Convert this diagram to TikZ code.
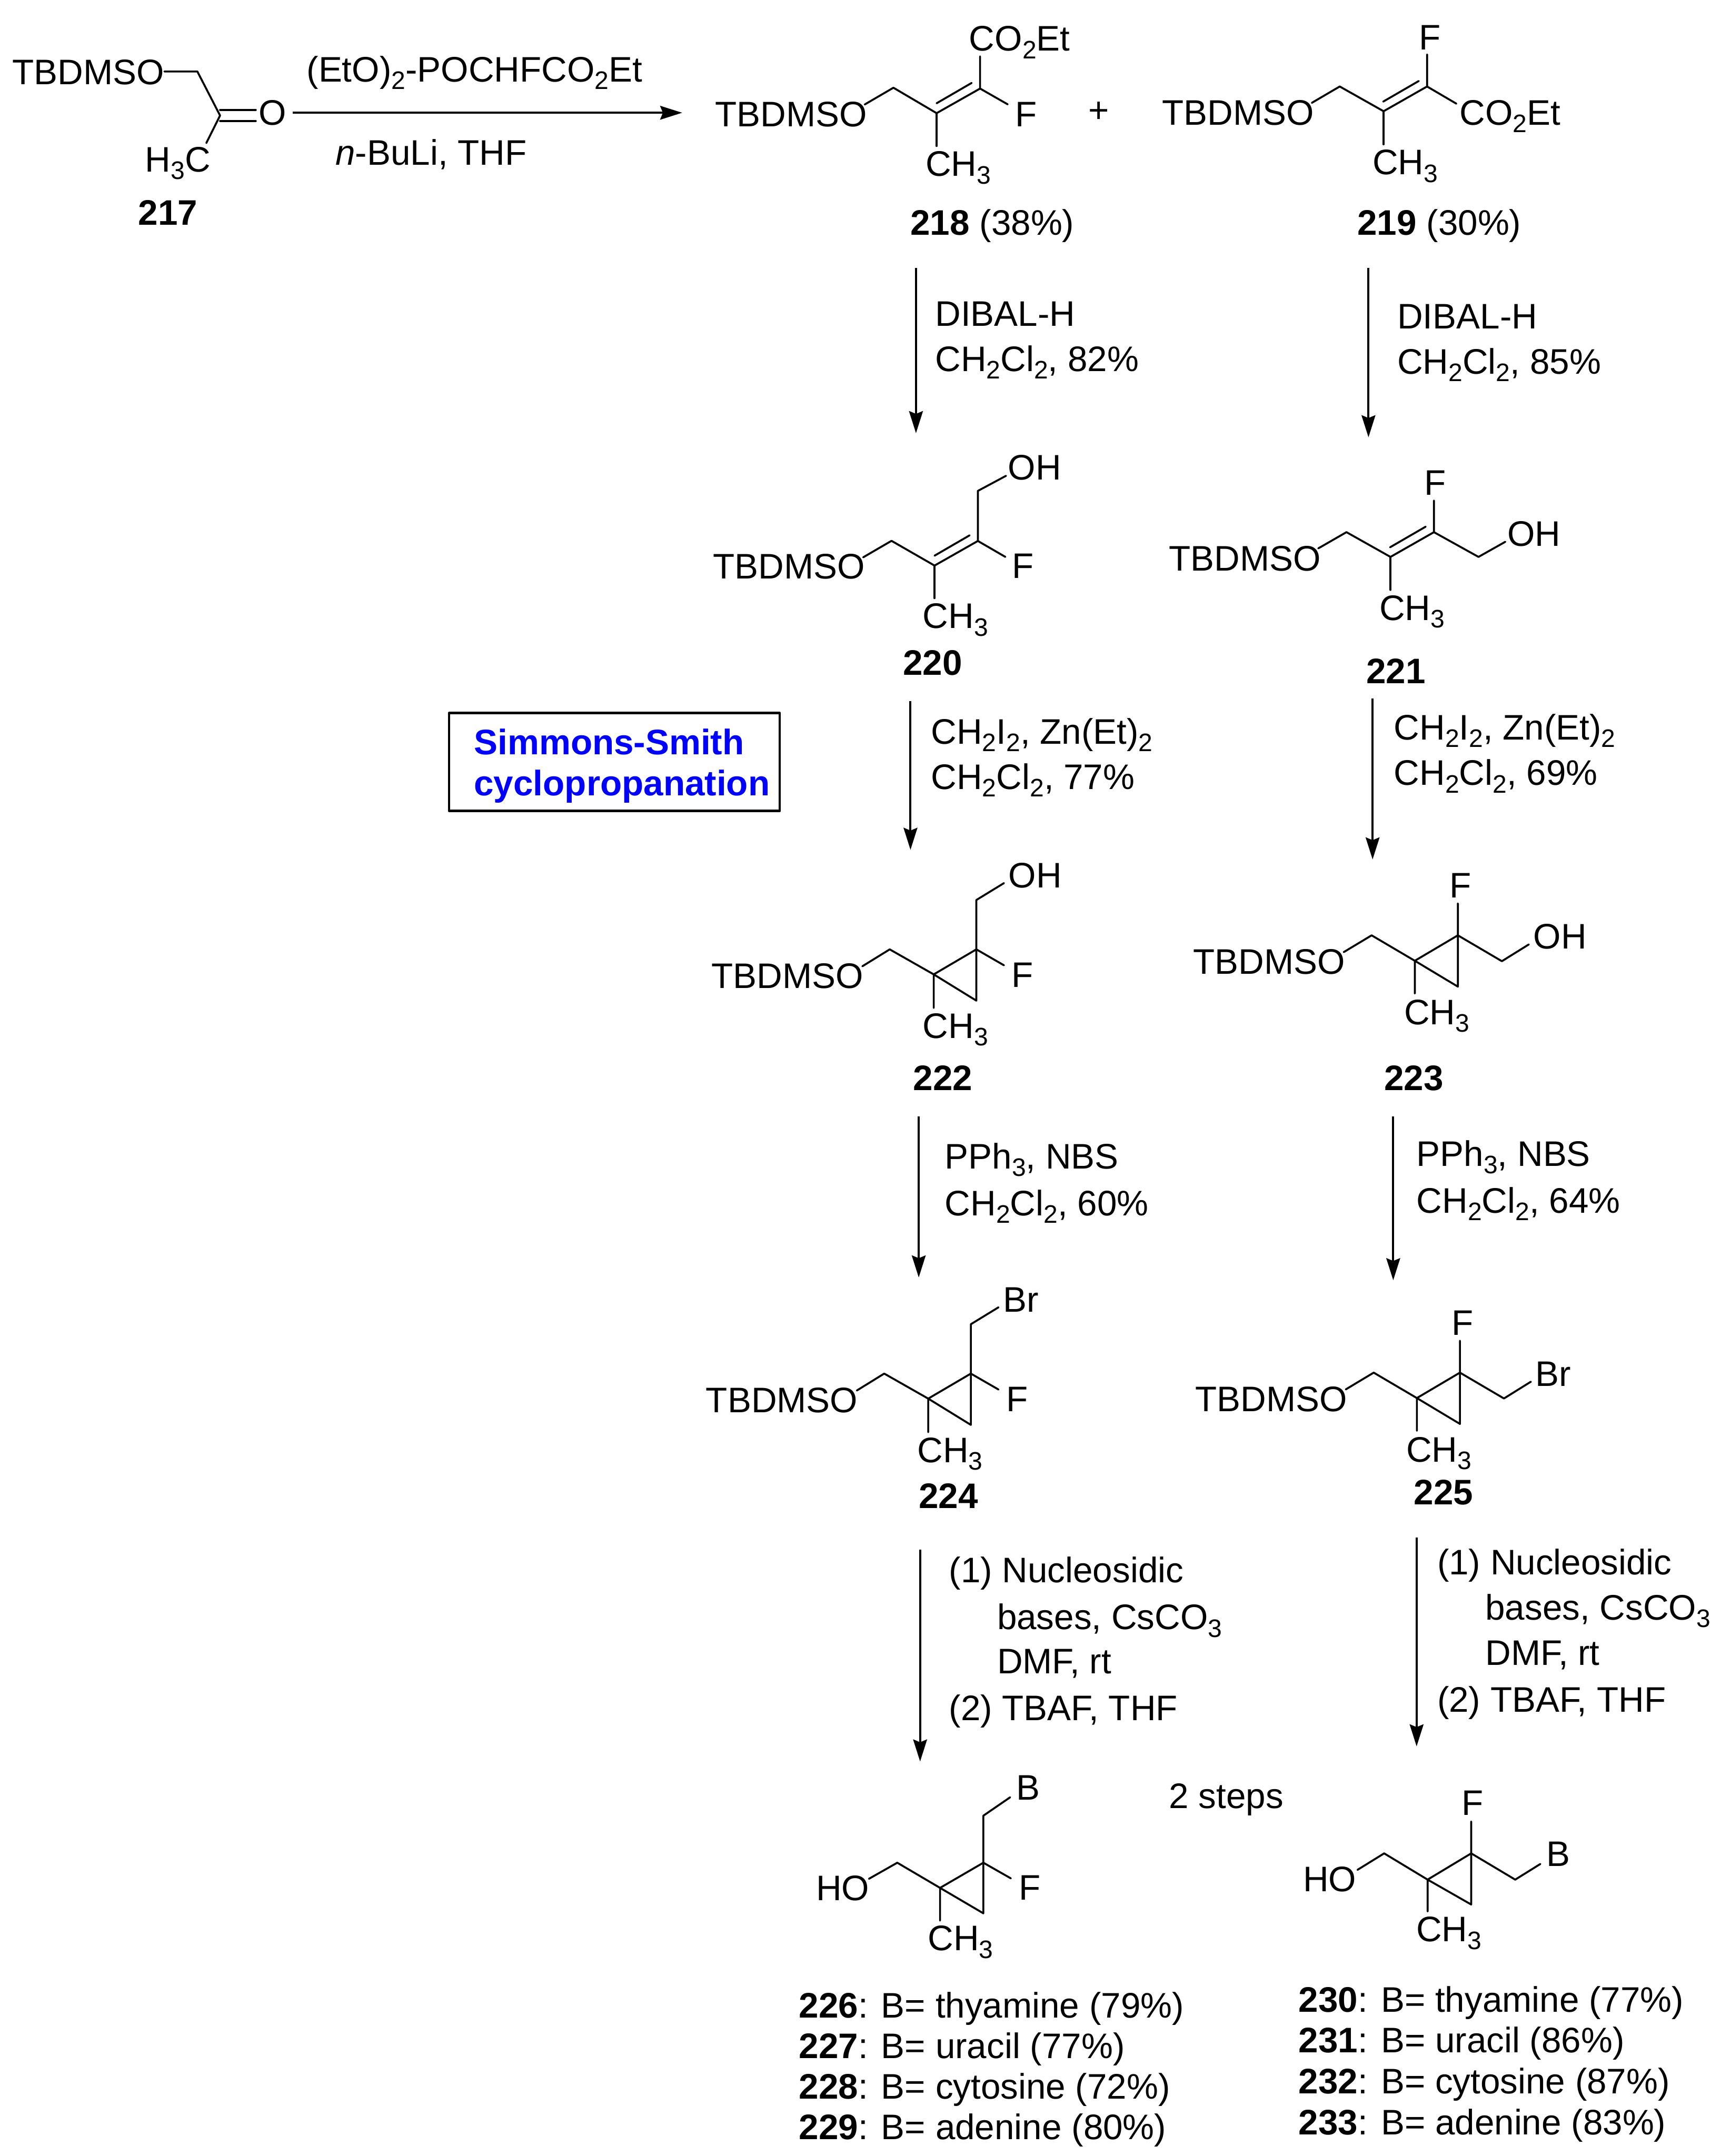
\documentclass[tikz,border=0pt]{standalone}
\usepackage{fontspec}
\setmainfont{Liberation Sans}
\usetikzlibrary{arrows.meta}
\newcommand\sbs[1]{\raisebox{-5.5pt}{\fontsize{18.4}{20}\selectfont #1}}
\newcommand\tbd{TBDMSO}
\newcommand\chthree{CH\sbs{3}}
\newcommand\coet{CO\sbs{2}Et}
\tikzset{
  lbl/.style={inner sep=0pt,outer sep=0pt,anchor=base west,font=\fontsize{25.8}{30}\selectfont,text=black},
  bond/.style={line width=1.4pt,line cap=round,line join=round,draw=black},
  rxn/.style={line width=1.5pt,draw=black,-{Stealth[length=16pt,width=10pt,inset=2pt]}},
  namebox/.style={line width=1.7pt,draw=black,line join=round}
}
% cyclopropane, arm up: prefix, shift, top label
\newcommand\cpUp[4]{%
\begin{scope}[shift={(#2,#3)}]
\node[lbl] (#1tbd) at (517.3,718.6) {\tbd};
\node[lbl] (#1top) at (733.3,645.6) {#4};
\node[lbl] (#1f) at (735.6,717.8) {F};
\node[lbl] (#1me) at (671,755) {\chthree};
\coordinate (#1s) at (627,702.7);
\coordinate (#1v) at (646.9,690.4);
\coordinate (#1q) at (678.9,708.6);
\coordinate (#1c) at (709.9,690.4);
\coordinate (#1b) at (709.9,727.7);
\coordinate (#1u) at (709.9,654.5);
\coordinate (#1e) at (730,642.2);
\coordinate (#1fe) at (730,702);
\coordinate (#1me2) at (678.9,733);
\draw[bond] (#1s)--(#1v)--(#1q)--(#1b)--(#1c)--(#1q)--(#1me2);
\draw[bond] (#1c)--(#1u)--(#1e);
\draw[bond] (#1c)--(#1fe);
\end{scope}}
% cyclopropane, F up: prefix, shift, side label
\newcommand\cpSide[4]{%
\begin{scope}[shift={(#2,#3)}]
\node[lbl] (#1tbd) at (867.6,708.3) {\tbd};
\node[lbl] (#1side) at (1115,690) {#4};
\node[lbl] (#1f) at (1054,653) {F};
\node[lbl] (#1me) at (1021,745) {\chthree};
\coordinate (#1s) at (977,692.4);
\coordinate (#1v) at (997.3,680.2);
\coordinate (#1q) at (1028.7,698.7);
\coordinate (#1c) at (1060,680.2);
\coordinate (#1b) at (1060,717.5);
\coordinate (#1fe) at (1060,657);
\coordinate (#1w) at (1092,699);
\coordinate (#1e) at (1111.6,686.8);
\coordinate (#1me2) at (1028.7,722.5);
\draw[bond] (#1s)--(#1v)--(#1q)--(#1b)--(#1c)--(#1q)--(#1me2);
\draw[bond] (#1fe)--(#1c)--(#1w)--(#1e);
\end{scope}}
\begin{document}
\begin{tikzpicture}[x=1pt,y=-1pt]
\useasboundingbox (0,0) rectangle (1251,1567.9);
% 217
\node[lbl] (tbdA) at (9,61.5) {\tbd};
\node[lbl] (oA) at (188,91) {O};
\node[lbl] (meA) at (105.5,125) {H\sbs{3}C};
\node[lbl] (n217) at (100.5,163.5) {\textbf{217}};
\coordinate (a0) at (119.5,52);
\coordinate (a1) at (143.5,52);
\coordinate (a2) at (160,84);
\coordinate (a3) at (150,104);
\coordinate (a4) at (160,80);
\coordinate (a5) at (186,80);
\coordinate (a6) at (160,88);
\coordinate (a7) at (186,88);
\draw[bond] (a0)--(a1)--(a2)--(a3);
\draw[bond] (a4)--(a5);
\draw[bond] (a6)--(a7);
\coordinate (r1s) at (213,82);
\coordinate (r1e) at (496,82);
\draw[rxn] (r1s)--(r1e);
\node[lbl] (t1) at (223,59.5) {(EtO)\sbs{2}-POCHFCO\sbs{2}Et};
\node[lbl] (t2) at (244,120) {\textit{n}-BuLi, THF};
% 218
\node[lbl] (tbdB) at (520,92) {\tbd};
\node[lbl] (coB) at (704.7,37) {\coet};
\node[lbl] (fB) at (738.2,92) {F};
\node[lbl] (meB) at (673,128.2) {\chthree};
\node[lbl] (n218) at (662,171) {\textbf{218} (38\%)};
\coordinate (b0) at (628.7,76);
\coordinate (b1) at (649.6,63.8);
\coordinate (b2) at (681,82.3);
\coordinate (b3) at (712.6,64.4);
\coordinate (b4) at (712.6,41);
\coordinate (b5) at (732.7,75.9);
\coordinate (b6) at (681,106.2);
\coordinate (b7) at (681,75.1);
\coordinate (b8) at (706.5,60.3);
\draw[bond] (b0)--(b1)--(b2)--(b3)--(b4);
\draw[bond] (b3)--(b5);
\draw[bond] (b2)--(b6);
\draw[bond] (b7)--(b8);
\node[lbl] (plus) at (791.5,89) {+};
% 219
\node[lbl] (tbdC) at (845,91) {\tbd};
\node[lbl] (fC) at (1031.6,36) {F};
\node[lbl] (coC) at (1061.4,90.8) {\coet};
\node[lbl] (meC) at (998,127) {\chthree};
\node[lbl] (n219) at (987,171) {\textbf{219} (30\%)};
\coordinate (c0) at (953.8,74.8);
\coordinate (c1) at (974.1,62.9);
\coordinate (c2) at (1006,80.9);
\coordinate (c3) at (1037.6,62.9);
\coordinate (c4) at (1037.6,39.6);
\coordinate (c5) at (1058.9,75.4);
\coordinate (c6) at (1006,105);
\coordinate (c7) at (1005.7,73.9);
\coordinate (c8) at (1031.6,58.9);
\draw[bond] (c0)--(c1)--(c2)--(c3)--(c4);
\draw[bond] (c3)--(c5);
\draw[bond] (c2)--(c6);
\draw[bond] (c7)--(c8);
% arrows 218->220, 219->221
\coordinate (r2s) at (666,195);
\coordinate (r2e) at (666,315);
\draw[rxn] (r2s)--(r2e);
\node[lbl] (t3) at (680,237) {DIBAL-H};
\node[lbl] (t4) at (680,270) {CH\sbs{2}Cl\sbs{2}, 82\%};
\coordinate (r3s) at (995,195);
\coordinate (r3e) at (995,318);
\draw[rxn] (r3s)--(r3e);
\node[lbl] (t5) at (1016,239) {DIBAL-H};
\node[lbl] (t6) at (1016,272) {CH\sbs{2}Cl\sbs{2}, 85\%};
% 220
\node[lbl] (tbdD) at (518.4,421) {\tbd};
\node[lbl] (ohD) at (733,349) {OH};
\node[lbl] (fD) at (736,420.5) {F};
\node[lbl] (meD) at (671,457) {\chthree};
\node[lbl] (n220) at (656.5,491) {\textbf{220}};
\coordinate (d0) at (627.6,405.3);
\coordinate (d1) at (648.2,393.3);
\coordinate (d2) at (679.5,411.3);
\coordinate (d3) at (711,393.4);
\coordinate (d4) at (711,357);
\coordinate (d5) at (731.5,346);
\coordinate (d6) at (731,405);
\coordinate (d7) at (679.5,435);
\coordinate (d8) at (679.5,404.1);
\coordinate (d9) at (705,389.3);
\draw[bond] (d0)--(d1)--(d2)--(d3)--(d4)--(d5);
\draw[bond] (d3)--(d6);
\draw[bond] (d2)--(d7);
\draw[bond] (d8)--(d9);
% 221
\node[lbl] (tbdE) at (850,415) {\tbd};
\node[lbl] (fE) at (1035.5,360) {F};
\node[lbl] (ohE) at (1096,397) {OH};
\node[lbl] (meE) at (1003,451) {\chthree};
\node[lbl] (n221) at (993.5,497) {\textbf{221}};
\coordinate (e0) at (958.5,398.8);
\coordinate (e1) at (979,387);
\coordinate (e2) at (1011,405);
\coordinate (e3) at (1042.6,387);
\coordinate (e4) at (1042.6,364);
\coordinate (e5) at (1075,405);
\coordinate (e6) at (1094.5,394);
\coordinate (e7) at (1011,429);
\coordinate (e8) at (1010.7,398);
\coordinate (e9) at (1036.6,383);
\draw[bond] (e0)--(e1)--(e2)--(e3)--(e4);
\draw[bond] (e3)--(e5)--(e6);
\draw[bond] (e2)--(e7);
\draw[bond] (e8)--(e9);
% box
\node[lbl] (ss1) at (344.7,548.8) {\textbf{\textcolor{blue}{Simmons-Smith}}};
\node[lbl] (ss2) at (344.7,578.6) {\textbf{\textcolor{blue}{cyclopropanation}}};
\coordinate (bx1) at (326.5,518.5);
\coordinate (bx2) at (567,589.7);
\draw[namebox] (bx1) rectangle (bx2);
% arrows to 222/223
\coordinate (r4s) at (662,510);
\coordinate (r4e) at (662,618);
\draw[rxn] (r4s)--(r4e);
\node[lbl] (t7) at (677,541) {CH\sbs{2}I\sbs{2}, Zn(Et)\sbs{2}};
\node[lbl] (t8) at (677,574) {CH\sbs{2}Cl\sbs{2}, 77\%};
\coordinate (r5s) at (998,508);
\coordinate (r5e) at (998,625);
\draw[rxn] (r5s)--(r5e);
\node[lbl] (t9) at (1013.5,538) {CH\sbs{2}I\sbs{2}, Zn(Et)\sbs{2}};
\node[lbl] (t10) at (1013.5,571) {CH\sbs{2}Cl\sbs{2}, 69\%};
% 222, 223
\cpUp{m222}{0}{0}{OH}
\node[lbl] (n222) at (664,793) {\textbf{222}};
\cpSide{m223}{0}{0}{OH}
\node[lbl] (n223) at (1006.5,793) {\textbf{223}};
% arrows to 224/225
\coordinate (r6s) at (668,812);
\coordinate (r6e) at (668,929);
\draw[rxn] (r6s)--(r6e);
\node[lbl] (t11) at (687,850) {PPh\sbs{3}, NBS};
\node[lbl] (t12) at (687,884) {CH\sbs{2}Cl\sbs{2}, 60\%};
\coordinate (r7s) at (1013,812);
\coordinate (r7e) at (1013,931);
\draw[rxn] (r7s)--(r7e);
\node[lbl] (t13) at (1030,848) {PPh\sbs{3}, NBS};
\node[lbl] (t14) at (1030,882) {CH\sbs{2}Cl\sbs{2}, 64\%};
% 224, 225
\cpUp{m224}{-4}{308.5}{Br}
\node[lbl] (n224) at (668,1097) {\textbf{224}};
\cpSide{m225}{1.5}{318}{Br}
\node[lbl] (n225) at (1028,1094) {\textbf{225}};
% arrows to 226/230
\coordinate (r8s) at (669,1127);
\coordinate (r8e) at (669,1281);
\draw[rxn] (r8s)--(r8e);
\node[lbl] (t15) at (690,1151) {(1) Nucleosidic};
\node[lbl] (t16) at (725,1185) {bases, CsCO\sbs{3}};
\node[lbl] (t17) at (725,1217) {DMF, rt};
\node[lbl] (t18) at (690,1251) {(2) TBAF, THF};
\coordinate (r9s) at (1030,1118);
\coordinate (r9e) at (1030,1270);
\draw[rxn] (r9s)--(r9e);
\node[lbl] (t19) at (1045,1145) {(1) Nucleosidic};
\node[lbl] (t20) at (1080,1178) {bases, CsCO\sbs{3}};
\node[lbl] (t21) at (1080,1211) {DMF, rt};
\node[lbl] (t22) at (1045,1245) {(2) TBAF, THF};
\node[lbl] (steps) at (850,1315) {2 steps};
% 226 series
\node[lbl] (hoF) at (593.4,1382) {HO};
\node[lbl] (bF) at (739,1309) {B};
\node[lbl] (fF) at (741,1381.7) {F};
\node[lbl] (meF) at (674.7,1418.5) {\chthree};
\coordinate (f0) at (631.8,1366.3);
\coordinate (f1) at (652.4,1354.6);
\coordinate (f2) at (683.5,1372.9);
\coordinate (f3) at (715,1354.6);
\coordinate (f4) at (715,1391.4);
\coordinate (f5) at (715,1320.4);
\coordinate (f6) at (734.5,1307);
\coordinate (f7) at (735,1366);
\coordinate (f8) at (683.5,1396.7);
\draw[bond] (f0)--(f1)--(f2)--(f4)--(f3)--(f2)--(f8);
\draw[bond] (f3)--(f5)--(f6);
\draw[bond] (f3)--(f7);
\node[lbl] (l226) at (581,1467.5) {\textbf{226}: B= thyamine (79\%)};
\node[lbl] (l227) at (581,1497) {\textbf{227}: B= uracil (77\%)};
\node[lbl] (l228) at (581,1526.5) {\textbf{228}: B= cytosine (72\%)};
\node[lbl] (l229) at (581,1556) {\textbf{229}: B= adenine (80\%)};
% 230 series
\node[lbl] (hoG) at (947.5,1375.7) {HO};
\node[lbl] (bG) at (1124.5,1357) {B};
\node[lbl] (fG) at (1062.8,1320) {F};
\node[lbl] (meG) at (1029.7,1412) {\chthree};
\coordinate (g0) at (987,1359.8);
\coordinate (g1) at (1006.4,1347.8);
\coordinate (g2) at (1038,1366.9);
\coordinate (g3) at (1069.7,1347.8);
\coordinate (g4) at (1069.7,1385);
\coordinate (g5) at (1069.7,1324.6);
\coordinate (g6) at (1101.7,1366.9);
\coordinate (g7) at (1120,1355.5);
\coordinate (g8) at (1038,1390);
\draw[bond] (g0)--(g1)--(g2)--(g4)--(g3)--(g2)--(g8);
\draw[bond] (g5)--(g3)--(g6)--(g7);
\node[lbl] (l230) at (944.3,1463) {\textbf{230}: B= thyamine (77\%)};
\node[lbl] (l231) at (944.3,1492.7) {\textbf{231}: B= uracil (86\%)};
\node[lbl] (l232) at (944.3,1522.6) {\textbf{232}: B= cytosine (87\%)};
\node[lbl] (l233) at (944.3,1552.5) {\textbf{233}: B= adenine (83\%)};
\end{tikzpicture}
\end{document}
